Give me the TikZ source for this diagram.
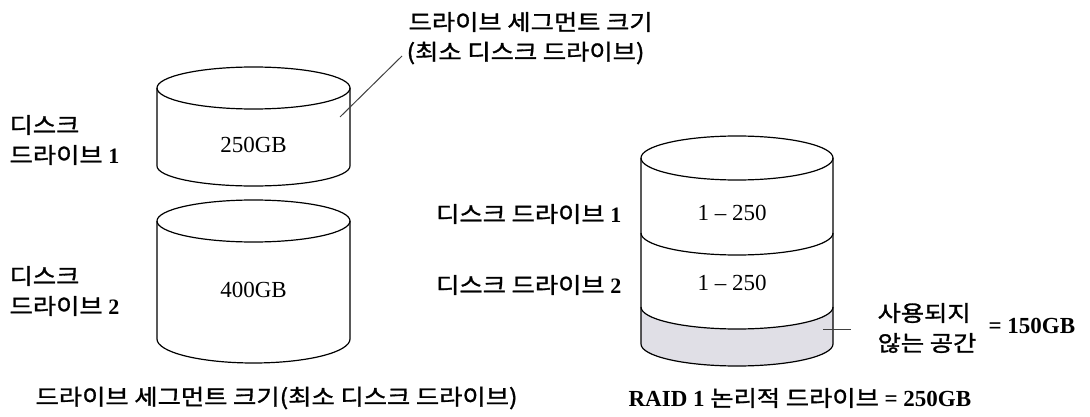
\documentclass[tikz,border=0pt]{standalone}
\usepackage{fontspec}
\setmainfont{Liberation Serif}
\newfontfamily\kr[FakeStretch=1.15,FakeBold=1.3]{Noto Sans CJK KR}
\definecolor{unused}{RGB}{224,223,230}
\begin{document}
\begin{tikzpicture}[x=1pt,y=-1pt,line width=1.2pt,
  kor/.style={font=\kr\fontsize{22}{30}\selectfont,inner sep=0pt,align=left},
  lat/.style={font=\fontsize{23}{27}\selectfont,inner sep=0pt},
  leader/.style={line width=1pt,draw=black!75}]
\useasboundingbox (0,0) rectangle (1090,417);

% disk 1
\draw (253.5,88) ellipse [x radius=96.5, y radius=21];
\draw (157,88) -- (157,166) arc [start angle=180, end angle=0, x radius=96.5, y radius=20] -- (350,88);
% disk 2
\draw (253.5,221) ellipse [x radius=96.5, y radius=21];
\draw (157,221) -- (157,339) arc [start angle=180, end angle=0, x radius=96.5, y radius=24] -- (350,221);
% RAID logical drive
\fill[unused] (641,307) arc [start angle=180, end angle=0, x radius=96, y radius=22]
  -- (833,344) arc [start angle=0, end angle=180, x radius=96, y radius=22] -- cycle;
\draw (737,158) ellipse [x radius=96, y radius=22];
\draw (641,158) -- (641,344) arc [start angle=180, end angle=0, x radius=96, y radius=22] -- (833,158);
\draw (641,233) arc [start angle=180, end angle=0, x radius=96, y radius=22];
\draw (641,307) arc [start angle=180, end angle=0, x radius=96, y radius=22];

% texts
\node[kor,anchor=west] (t1) at (408,22) {드라이브 세그먼트 크기};
\node[kor,anchor=west] (t2) at (406,53) {(최소 디스크 드라이브)};
\node[kor,anchor=west] (d1) at (9,140) {디스크\\드라이브 {\rmfamily\bfseries 1}};
\node[kor,anchor=west] (d2) at (9,291) {디스크\\드라이브 {\rmfamily\bfseries 2}};
\node[lat] (c1) at (253.5,145) {250GB};
\node[lat] (c2) at (253.5,290) {400GB};
\node[kor,anchor=east] (r1) at (622,214) {디스크 드라이브 {\rmfamily\bfseries 1}};
\node[kor,anchor=east] (r2) at (622,285) {디스크 드라이브 {\rmfamily\bfseries 2}};
\node[lat] (s1) at (732,213) {1 -- 250};
\node[lat] (s2) at (732,283) {1 -- 250};
\node[kor,anchor=west] (un) at (877,328) {사용되지\\않는 공간};
\node[lat,anchor=west,font=\fontsize{23}{27}\selectfont\bfseries] (eq) at (988,326) {= 150GB};
\node[kor,anchor=west] (raid) at (628,398) {{\rmfamily\bfseries\fontsize{23}{27}\selectfont RAID 1} 논리적 드라이브 {\rmfamily\bfseries\fontsize{23}{27}\selectfont = 250GB}};
\node[kor,anchor=west] (seg) at (35,398) {드라이브 세그먼트 크기(최소 디스크 드라이브)};

% leaders
\coordinate (la) at (340,117);
\coordinate (lb) at (402,56);
\draw[leader] (la) -- (lb);
\coordinate (ua) at (823,329);
\coordinate (ub) at (851,329);
\draw[leader] (ua) -- (ub);
\end{tikzpicture}
\end{document}
